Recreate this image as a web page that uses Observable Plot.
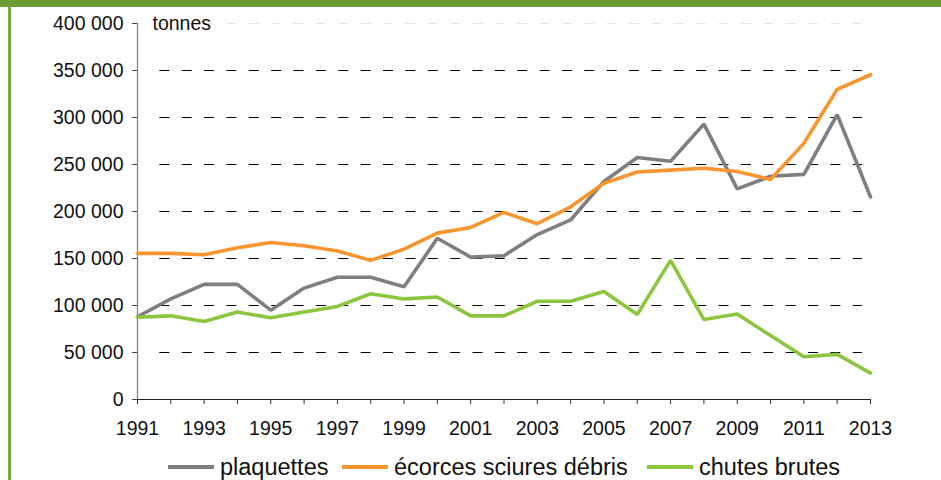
<!DOCTYPE html>
<html>
<head>
<meta charset="utf-8">
<script src="https://cdn.jsdelivr.net/npm/d3@7"></script>
<script src="https://cdn.jsdelivr.net/npm/@observablehq/plot@0.6"></script>
<style>
  html, body { margin: 0; padding: 0; background: #fff; overflow: hidden; }
  #wrap { position: relative; width: 941px; height: 480px; font-family: "Liberation Sans", Arial, sans-serif; }
  #topbar { position: absolute; left: 0; top: 0; width: 941px; height: 7px; background: #6e9a34; }
  #leftbar { position: absolute; left: 8px; top: 7px; width: 3px; height: 473px; background: #78a83b; }
  #chart { position: absolute; left: 0; top: 0; }
  #legend { position: absolute; top: 451px; left: 0; width: 941px; height: 32px; font-size: 23.5px; color: #111; white-space: nowrap; }
  .item { position: absolute; top: 0; height: 32px; display: flex; align-items: center; }
  .sw { display: inline-block; width: 46px; height: 4px; margin-right: 6px; }
</style>
</head>
<body>
<div id="wrap">
  <div id="chart"></div>
  <div id="topbar"></div>
  <div id="leftbar"></div>
  <div id="legend"></div>
</div>
<script>
// ---- data ----
const years = [1991,1992,1993,1994,1995,1996,1997,1998,1999,2000,2001,2002,2003,2004,2005,2006,2007,2008,2009,2010,2011,2012,2013];
const labelYears = [1991,1993,1995,1997,1999,2001,2003,2005,2007,2009,2011,2013];
const plaquettes = [88000,107000,122500,122500,95000,118500,130000,130000,120000,171500,151500,153000,175500,191000,232000,257500,253500,293000,224000,237500,239500,303000,215500];
const ecorces = [155500,155500,154000,161500,167000,163500,158000,148000,160000,177000,183000,199000,187000,205000,230000,242000,244000,246000,242500,234000,272500,330000,345500];
const chutes = [87500,89000,83000,93000,87000,93000,99000,112500,107000,109000,89000,89000,104500,104500,115000,90500,148000,85000,91000,68000,45500,48000,28000];
const seriesNames = ["plaquettes", "écorces sciures débris", "chutes brutes"];
const seriesColors = ["#7f7f7f", "#f7962f", "#8cc63e"];
const yTicks = [0,50000,100000,150000,200000,250000,300000,350000,400000];
const gridValues = [50000,100000,150000,200000,250000,300000,350000];
const unitLabel = "tonnes";

const seriesValues = [plaquettes, ecorces, chutes];
const data = seriesNames.flatMap((name, i) => years.map((year, j) => ({series: name, year, value: seriesValues[i][j]})));

const fmt = d => d3.format(",")(d).replace(/,/g, " ");

const chart = Plot.plot({
  width: 941,
  height: 450,
  marginLeft: 137,
  marginRight: 71,
  marginTop: 23,
  marginBottom: 51,
  style: {fontFamily: "'Liberation Sans', Arial, sans-serif", fontSize: "19.5px", color: "#111", background: "transparent", overflow: "visible"},
  x: {domain: [1991, 2013]},
  y: {domain: [0, 400000]},
  color: {domain: seriesNames, range: seriesColors},
  marks: [
    Plot.ruleY(gridValues, {stroke: "#000", strokeWidth: 1, strokeDasharray: "10,12.37", insetLeft: 22.3, insetRight: 8}),
    Plot.ruleY([400000], {stroke: "#e6e6e6", strokeWidth: 1, strokeDasharray: "10,12.37", insetLeft: 22.3, insetRight: 8}),
    Plot.axisY({ticks: yTicks, tickFormat: fmt, tickSize: 5, tickPadding: 9, label: null, stroke: "#444"}),
    Plot.axisX({ticks: years, tickFormat: () => "", tickSize: 5, label: null, stroke: "#333"}),
    Plot.axisX({ticks: labelYears, tickFormat: d => String(d), tickSize: 0, tickPadding: 22, label: null}),
    Plot.ruleX([1991], {stroke: "#808080", strokeWidth: 1.2}),
    Plot.ruleY([0], {stroke: "#222", strokeWidth: 1}),
    Plot.line(data, {x: "year", y: "value", z: "series", stroke: "series", strokeWidth: 3.6, strokeLinejoin: "miter"}),
    Plot.text([unitLabel], {x: () => 1991, y: () => 400000, text: d => d, dx: 15, textAnchor: "start", fill: "#111"})
  ]
});
document.getElementById("chart").appendChild(chart);

const legendLeft = [168, 342, 647];
const legend = document.getElementById("legend");
seriesNames.forEach((name, i) => {
  const item = document.createElement("span");
  item.className = "item";
  item.style.left = legendLeft[i] + "px";
  const sw = document.createElement("span");
  sw.className = "sw";
  sw.style.background = seriesColors[i];
  const t = document.createElement("span");
  t.textContent = name;
  item.appendChild(sw);
  item.appendChild(t);
  legend.appendChild(item);
});
</script>
</body>
</html>
